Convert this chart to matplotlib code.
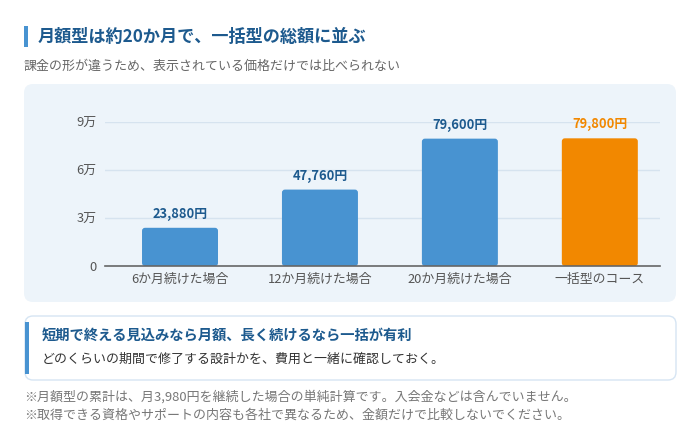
import matplotlib
matplotlib.use("Agg")
import matplotlib.pyplot as plt
from matplotlib.patches import FancyBboxPatch, Rectangle

plt.rcParams['font.family'] = ['Noto Sans CJK JP', 'DejaVu Sans']

categories = ["6か月続けた場合", "12か月続けた場合", "20か月続けた場合", "一括型のコース"]
values = [23880, 47760, 79600, 79800]
value_labels = ["23,880円", "47,760円", "79,600円", "79,800円"]
yticks = [0, 30000, 60000, 90000]
ytick_labels = ["0", "3万", "6万", "9万"]

title = "月額型は約20か月で、一括型の総額に並ぶ"
subtitle = "課金の形が違うため、表示されている価格だけでは比べられない"
callout_title = "短期で終える見込みなら月額、長く続けるなら一括が有利"
callout_body = "どのくらいの期間で修了する設計かを、費用と一緒に確認しておく。"
notes = ["※月額型の累計は、月3,980円を継続した場合の単純計算です。入会金などは含んでいません。",
         "※取得できる資格やサポートの内容も各社で異なるため、金額だけで比較しないでください。"]

BLUE = "#4893d1"
ORANGE = "#f28800"
DARK = "#1d5a8e"
W, H = 700, 434

fig = plt.figure(figsize=(W / 100, H / 100), dpi=100)
fig.patch.set_facecolor("white")

bg = fig.add_axes([0, 0, 1, 1])
bg.set_xlim(0, W)
bg.set_ylim(H, 0)
bg.axis("off")

bg.add_patch(Rectangle((24, 26), 4, 21, color=BLUE, lw=0))
bg.text(38, 36.5, title, fontsize=12.35, fontweight="bold", color=DARK, va="center", ha="left")
bg.text(24, 66, subtitle, fontsize=9.35, color="#666666", va="center", ha="left")

bg.add_patch(FancyBboxPatch((24, 84), 652, 218, boxstyle="round,pad=0,rounding_size=9",
                            facecolor="#edf4fa", edgecolor="none"))

bg.add_patch(FancyBboxPatch((25, 316), 651, 64, boxstyle="round,pad=0,rounding_size=8",
                            facecolor="white", edgecolor="#d6e5f3", lw=1.0))
bg.add_patch(Rectangle((25, 322), 3.5, 52, color=BLUE, lw=0))
bg.text(42, 336, callout_title, fontsize=10.3, fontweight="bold", color=DARK, va="center", ha="left")
bg.text(42, 359, callout_body, fontsize=9.35, color="#333333", va="center", ha="left")

bg.text(24, 397, notes[0], fontsize=9.35, color="#777777", va="center", ha="left")
bg.text(24, 415, notes[1], fontsize=9.35, color="#777777", va="center", ha="left")

left, right, ybot, ytop = 105, 660, 266, 122
ax = fig.add_axes([left / W, (H - ybot) / H, (right - left) / W, (ybot - ytop) / H])
ax.patch.set_alpha(0)
x = list(range(len(categories)))
colors = [BLUE, BLUE, BLUE, ORANGE]
bars = ax.bar(x, values, width=0.543, color=colors, zorder=3)
ax.set_xlim(-0.536, 3.43)
ax.set_ylim(0, 90000)

px_x = 1 / 140.0
px_y = 90000 / 144.0
for b, c in zip(bars, colors):
    b.set_visible(False)
    r = 3 * px_x
    p = FancyBboxPatch((b.get_x(), b.get_y()), b.get_width(), b.get_height(),
                       boxstyle=f"round,pad=0,rounding_size={r}",
                       mutation_aspect=px_y / px_x, facecolor=c, edgecolor="none", zorder=3)
    ax.add_patch(p)

for xi, v, lab, c in zip(x, values, value_labels, colors):
    ax.annotate(lab, (xi, v), xytext=(0, 10), textcoords="offset points",
                ha="center", va="center", fontsize=9.3, fontweight="bold",
                color=(ORANGE if c == ORANGE else DARK), clip_on=False, zorder=4)

ax.set_yticks(yticks)
ax.set_yticklabels(ytick_labels)
ax.set_xticks(x)
ax.set_xticklabels(categories)
ax.tick_params(axis="both", length=0, labelsize=9.3, labelcolor="#555555")
ax.tick_params(axis="y", pad=6)
ax.tick_params(axis="x", pad=5)
for s in ["top", "right", "left"]:
    ax.spines[s].set_visible(False)
ax.spines["bottom"].set_color("#666666")
ax.spines["bottom"].set_linewidth(1.2)
ax.spines["bottom"].set_zorder(5)
ax.grid(axis="y", color="#d6e3ef", lw=1, zorder=1)
ax.set_axisbelow(True)

fig.savefig("out.png", dpi=100, facecolor="white")
